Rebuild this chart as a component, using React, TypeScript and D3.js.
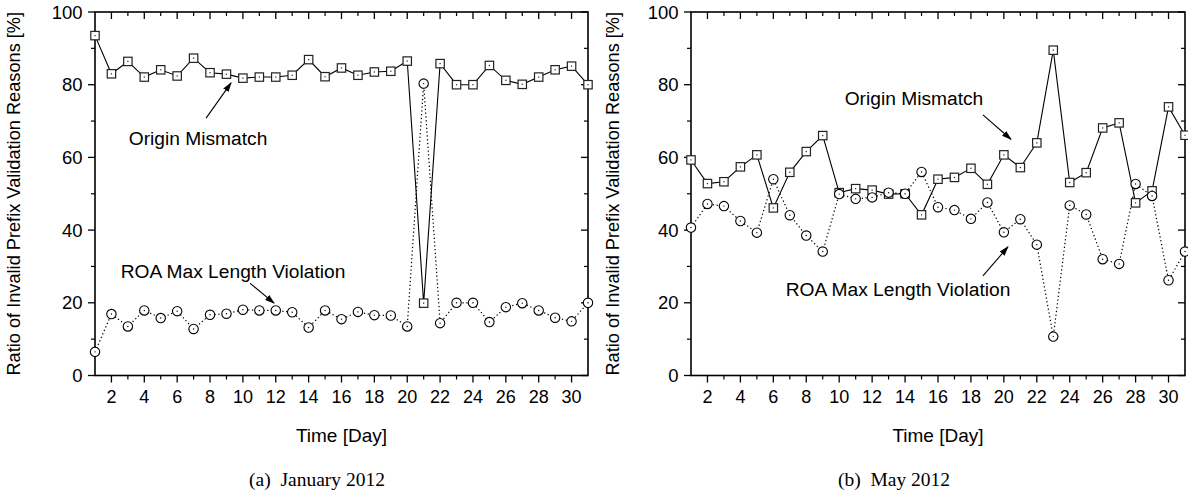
import React from 'react';
import * as d3 from 'd3';

const days = [1,2,3,4,5,6,7,8,9,10,11,12,13,14,15,16,17,18,19,20,21,22,23,24,25,26,27,28,29,30,31];
const xTickLabels = [2,4,6,8,10,12,14,16,18,20,22,24,26,28,30];
const yTickLabels = [0,20,40,60,80,100];

const janOrigin = [93.5,83.0,86.4,82.1,84.1,82.4,87.3,83.3,82.9,81.8,82.1,82.1,82.6,86.9,82.2,84.6,82.6,83.5,83.7,86.5,19.9,85.8,80.0,80.0,85.3,81.2,80.1,82.1,84.1,85.1,80.0];
const janROA = [6.5,16.9,13.5,17.9,15.8,17.7,12.8,16.7,17.0,18.1,17.9,17.9,17.4,13.2,17.9,15.5,17.5,16.6,16.5,13.5,80.3,14.4,20.0,20.0,14.7,18.8,19.9,17.9,15.9,14.9,20.0];
const mayOrigin = [59.3,52.8,53.3,57.4,60.7,46.1,55.9,61.6,66.0,50.3,51.4,51.0,49.9,50.0,44.2,54.0,54.5,57.0,52.6,60.7,57.2,64.0,89.5,53.1,55.8,68.1,69.5,47.5,50.8,73.9,66.1];
const mayROA = [40.7,47.2,46.6,42.5,39.3,54.0,44.1,38.5,34.1,49.9,48.6,49.0,50.3,50.0,56.0,46.3,45.5,43.1,47.6,39.4,43.0,36.0,10.7,46.8,44.3,32.0,30.7,52.7,49.4,26.2,34.1];

const seriesNames = ['Origin Mismatch', 'ROA Max Length Violation'];
const yTitle = 'Ratio of Invalid Prefix Validation Reasons [%]';
const xTitle = 'Time [Day]';
const captions = ['(a)  January 2012', '(b)  May 2012'];

// annotations in data coordinates: [textDay, textVal, arrowFromDay, arrowFromVal, arrowToDay, arrowToVal]
const janNotes = [
  [7.27, 65.3, 7.76, 70.8, 9.28, 80.5],
  [9.4, 28.6, 10.43, 25.4, 11.9, 19.9],
];
const mayNotes = [
  [14.54, 76.3, 18.73, 71.7, 20.43, 65.0],
  [13.57, 23.8, 18.73, 27.4, 20.25, 35.4],
];

const FONT = '"Liberation Sans", Arial, sans-serif';

type PanelProps = {
  left: number; right: number; top: number; bottom: number;
  origin: number[]; roa: number[]; notes: number[][]; caption: string;
  titleX: number; captionX: number;
};

function Panel(p: PanelProps) {
  const x = d3.scaleLinear().domain([1, 31]).range([p.left, p.right]);
  const y = d3.scaleLinear().domain([0, 100]).range([p.bottom, p.top]);
  const line = d3.line<number>().x((_, i) => x(days[i])).y((d) => y(d));
  const minorX = days.filter((d) => d % 2 === 1 && d > 1 && d < 31);
  const yMinor = [10, 30, 50, 70, 90];
  const maj = 7, mnr = 4;
  const uid = p.caption.length;
  return (
    <g>
      <defs>
        <marker id={'ah' + uid} viewBox="0 0 10 10" refX="9" refY="5" markerWidth="10" markerHeight="10" markerUnits="userSpaceOnUse" orient="auto">
          <path d="M0,1.8 L10,5 L0,8.2 Z" fill="#000" />
        </marker>
      </defs>
      <rect x={p.left} y={p.top} width={p.right - p.left} height={p.bottom - p.top} fill="none" stroke="#000" strokeWidth={1.6} />
      {xTickLabels.map((d) => (
        <g key={'xt' + d}>
          <line x1={x(d)} x2={x(d)} y1={p.bottom} y2={p.bottom + maj} stroke="#000" strokeWidth={1.3} />
          <line x1={x(d)} x2={x(d)} y1={p.top} y2={p.top + maj} stroke="#000" strokeWidth={1.3} />
          <text x={x(d)} y={p.bottom + 27.5} textAnchor="middle" fontFamily={FONT} fontSize={18}>{d}</text>
        </g>
      ))}
      {minorX.map((d) => (
        <g key={'xm' + d}>
          <line x1={x(d)} x2={x(d)} y1={p.bottom} y2={p.bottom + mnr} stroke="#000" strokeWidth={1.2} />
          <line x1={x(d)} x2={x(d)} y1={p.top} y2={p.top + mnr} stroke="#000" strokeWidth={1.2} />
        </g>
      ))}
      {yTickLabels.map((v) => (
        <g key={'yt' + v}>
          <line x1={p.left - maj} x2={p.left} y1={y(v)} y2={y(v)} stroke="#000" strokeWidth={1.3} />
          <line x1={p.right - maj} x2={p.right} y1={y(v)} y2={y(v)} stroke="#000" strokeWidth={1.3} />
          <text x={p.left - 12.5} y={y(v)} dy="0.36em" textAnchor="end" fontFamily={FONT} fontSize={18.5}>{v}</text>
        </g>
      ))}
      {yMinor.map((v) => (
        <g key={'ym' + v}>
          <line x1={p.left - mnr} x2={p.left} y1={y(v)} y2={y(v)} stroke="#000" strokeWidth={1.2} />
          <line x1={p.right - mnr} x2={p.right} y1={y(v)} y2={y(v)} stroke="#000" strokeWidth={1.2} />
        </g>
      ))}
      <text transform={`translate(${p.titleX},${(p.top + p.bottom) / 2}) rotate(-90)`} textAnchor="middle" dy="0.35em" fontFamily={FONT} fontSize={18.2}>{yTitle}</text>
      <text x={(p.left + p.right) / 2} y={p.bottom + 66} textAnchor="middle" fontFamily={FONT} fontSize={19}>{xTitle}</text>
      <text x={p.captionX} y={p.bottom + 110} textAnchor="middle" fontFamily='"Liberation Serif", "DejaVu Serif", serif' fontSize={19.5} style={{ whiteSpace: 'pre' }}>{p.caption}</text>
      <path d={line(p.origin) || ''} fill="none" stroke="#000" strokeWidth={1.1} />
      <path d={line(p.roa) || ''} fill="none" stroke="#000" strokeWidth={1.2} strokeDasharray="1.3 2.5" />
      {p.origin.map((v, i) => (
        <g key={'sq' + i}>
          <rect x={x(days[i]) - 4.2} y={y(v) - 4.2} width={8.4} height={8.4} fill="#fff" stroke="#222" strokeWidth={1.2} />
          <rect x={x(days[i]) - 0.6} y={y(v) - 0.6} width={1.2} height={1.2} fill="#222" />
        </g>
      ))}
      {p.roa.map((v, i) => (
        <g key={'ci' + i}>
          <circle cx={x(days[i])} cy={y(v)} r={4.7} fill="#fff" stroke="#000" strokeWidth={1.1} />
          <circle cx={x(days[i])} cy={y(v)} r={0.7} fill="#000" />
        </g>
      ))}
      {p.notes.map((n, i) => (
        <g key={'n' + i}>
          <text x={x(n[0])} y={y(n[1])} dy="0.35em" textAnchor="middle" fontFamily={FONT} fontSize={19.2}>{seriesNames[i]}</text>
          <line x1={x(n[2])} y1={y(n[3])} x2={x(n[4])} y2={y(n[5])} stroke="#000" strokeWidth={1.1} markerEnd={`url(#ah${uid})`} />
        </g>
      ))}
    </g>
  );
}

export default function App() {
  return (
    <svg width={1188} height={498} style={{ position: 'absolute', left: 0, top: 0, background: '#fff' }}>
      <rect x={0} y={0} width={1188} height={498} fill="#fff" />
      <Panel left={95} right={588} top={12} bottom={375.5} origin={janOrigin} roa={janROA} notes={janNotes} caption={captions[0]} titleX={14} captionX={317} />
      <Panel left={691} right={1185} top={12} bottom={375.5} origin={mayOrigin} roa={mayROA} notes={mayNotes} caption={captions[1]} titleX={613} captionX={894} />
    </svg>
  );
}
